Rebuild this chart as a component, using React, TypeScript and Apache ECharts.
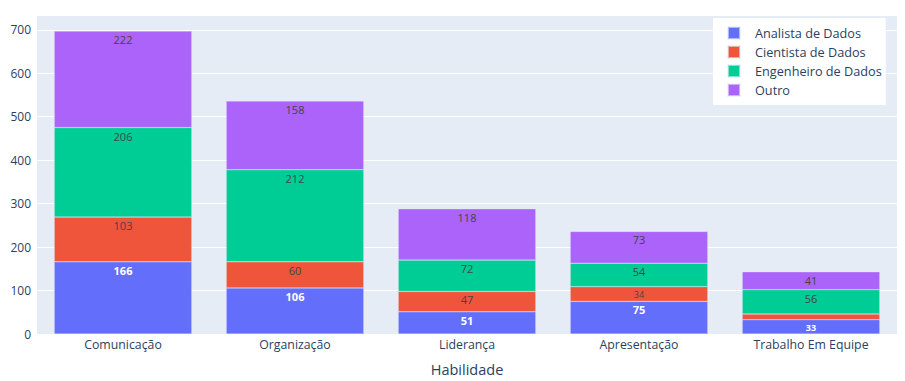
import React, { useEffect, useRef } from "react";
import * as echarts from "echarts";

const categories = ["Comunicação", "Organização", "Liderança", "Apresentação", "Trabalho Em Equipe"];
const seriesNames = ["Analista de Dados", "Cientista de Dados", "Engenheiro de Dados", "Outro"];
const analista = [166, 106, 51, 75, 33];
const cientista = [103, 60, 47, 34, 13];
const engenheiro = [206, 212, 72, 54, 56];
const outro = [222, 158, 118, 73, 41];
const colors = ["#636efa", "#EF553B", "#00cc96", "#ab63fa"];

const FONT = "'Open Sans', verdana, arial, sans-serif";

export default function App() {
  const ref = useRef<HTMLDivElement>(null);
  useEffect(() => {
    if (!ref.current) return;
    document.body.style.margin = "0";
    const chart = echarts.init(ref.current, null, { renderer: "svg", width: 905, height: 381 });
    const all = [analista, cientista, engenheiro, outro];
    const series = all.map((vals, i) => ({
      name: seriesNames[i],
      type: "bar",
      stack: "total",
      barCategoryGap: "20%",
      itemStyle: { color: colors[i], borderColor: "rgba(229,236,246,0.6)", borderWidth: 0.5 },
      data: vals.map((v) => {
        const small = v < 40;
        return {
          value: v,
          label: {
            show: v >= 20,
            fontSize: small ? 9 : 11,
          },
        };
      }),
      label: {
        show: true,
        position: "insideTop",
        distance: 3,
        fontFamily: FONT,
        color: i === 0 ? "#ffffff" : "#444444",
        fontWeight: i === 0 ? "bold" : "normal",
      },
      emphasis: { disabled: true },
    }));
    chart.setOption({
      animation: false,
      textStyle: { fontFamily: FONT },
      grid: {
        left: 37,
        right: 8,
        top: 15,
        bottom: 47,
        outerBoundsMode: "none",
        containLabel: false,
        backgroundColor: "#E5ECF6",
        show: true,
        borderWidth: 0,
      },
      legend: {
        orient: "vertical",
        left: 713,
        top: 18,
        backgroundColor: "#ffffff",
        padding: [8, 4, 8, 14],
        itemWidth: 12,
        itemHeight: 12,
        itemGap: 5,
        icon: "rect",
        textStyle: { fontFamily: FONT, fontSize: 12.7, color: "#2a3f5f", padding: [0, 0, 0, 10] },
        data: seriesNames,
      },
      xAxis: {
        type: "category",
        data: categories,
        name: "Habilidade",
        nameLocation: "middle",
        nameGap: 28,
        nameTextStyle: { fontFamily: FONT, fontSize: 14.5, color: "#2a3f5f" },
        axisLine: { show: false },
        axisTick: { show: false },
        axisLabel: { fontFamily: FONT, fontSize: 12.3, color: "#2a3f5f", margin: 4 },
      },
      yAxis: {
        type: "value",
        min: 0,
        max: 734,
        interval: 100,
        axisLine: { show: false },
        axisTick: { show: false },
        axisLabel: {
          fontFamily: FONT,
          fontSize: 12,
          color: "#2a3f5f",
          margin: 6,
          showMaxLabel: false,
          formatter: (v: number) => (v % 100 === 0 ? String(v) : ""),
        },
        splitLine: { lineStyle: { color: "#ffffff", width: 1 } },
      },
      series,
    });
    return () => chart.dispose();
  }, []);
  return <div ref={ref} style={{ width: 905, height: 381 }} />;
}
